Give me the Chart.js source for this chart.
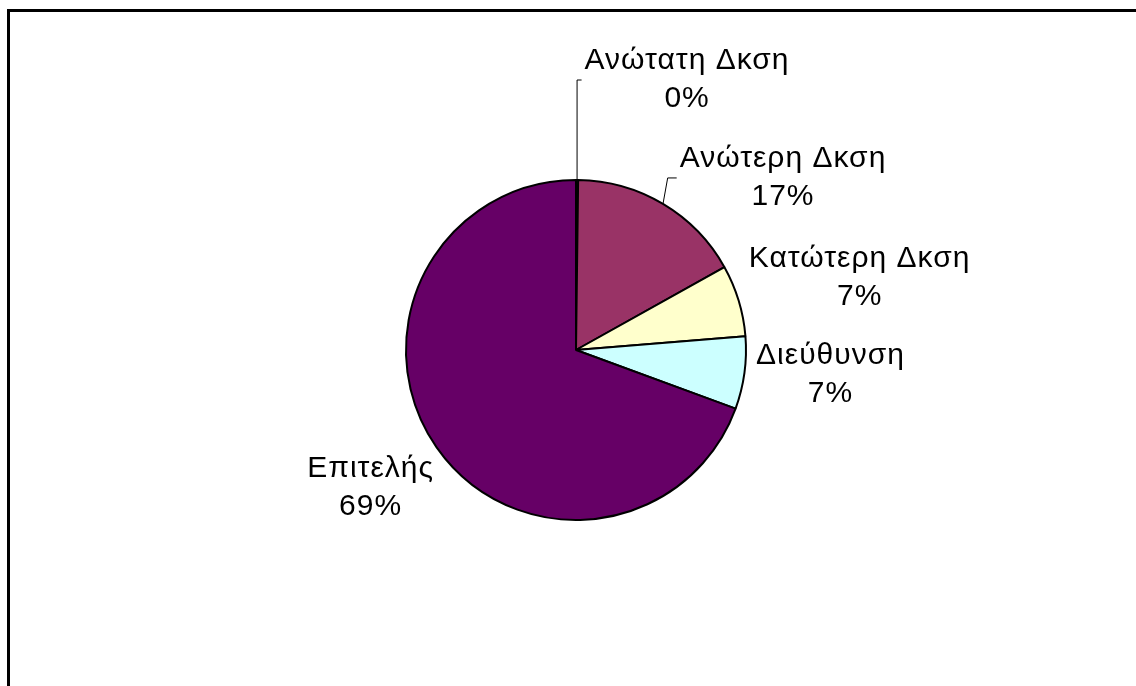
<!DOCTYPE html>
<html>
<head>
<meta charset="utf-8">
<script src="https://cdn.jsdelivr.net/npm/chart.js@4.4.1/dist/chart.umd.min.js"></script>
<style>
  html, body { margin: 0; padding: 0; background: #fff; overflow: hidden; }
  #wrap { position: relative; width: 1136px; height: 686px; }
  #frame { position: absolute; left: 7px; top: 9px; width: 1200px; height: 800px; border: 3px solid #000; }
  canvas { position: absolute; left: 0; top: 0; }
</style>
</head>
<body>
<div id="wrap">
  <div id="frame"></div>
  <canvas id="chart" width="1136" height="686"></canvas>
</div>
<script>
const categories = ["Ανώτατη Δκση", "Ανώτερη Δκση", "Κατώτερη Δκση", "Διεύθυνση", "Επιτελής"]
const shares = [0.2, 16.7, 6.8, 6.9, 69.4]
const sliceColors = ["#9999ff", "#993366", "#ffffcc", "#ccffff", "#660066"]

// label placement relative to the slice's outer mid point
const labelOffsets = [[110, -100], [120, -26], [121, -23], [86, 2], [-66, 40]]
const leaderLines = [true, true, false, false, false]

const total = shares.reduce((a, b) => a + b, 0)
const FONT = "30px 'Liberation Sans', Arial, sans-serif"

const sliceLabels = {
  id: "sliceLabels",
  afterDatasetsDraw(chart) {
    const ctx = chart.ctx
    const arcs = chart.getDatasetMeta(0).data
    ctx.save()
    ctx.font = FONT
    ctx.letterSpacing = "1px"
    ctx.fillStyle = "#000"
    ctx.strokeStyle = "#000"
    ctx.lineWidth = 1
    ctx.textAlign = "center"
    ctx.textBaseline = "middle"
    arcs.forEach((arc, i) => {
      const { x, y, startAngle, endAngle, outerRadius } = arc.getProps(["x", "y", "startAngle", "endAngle", "outerRadius"], true)
      const mid = (startAngle + endAngle) / 2
      const ex = x + Math.cos(mid) * outerRadius
      const ey = y + Math.sin(mid) * outerRadius
      const cx = ex + labelOffsets[i][0]
      const cy = ey + labelOffsets[i][1]
      const pct = Math.round(shares[i] / total * 100) + "%"
      ctx.fillText(categories[i], cx, cy - 19)
      ctx.fillText(pct, cx, cy + 19)

      if (leaderLines[i]) {
        const left = cx - ctx.measureText(categories[i]).width / 2
        const elbowX = Math.max(ex, left - 12)
        ctx.beginPath()
        ctx.moveTo(ex, ey)
        ctx.lineTo(elbowX, cy)
        ctx.lineTo(left - 3, cy)
        ctx.stroke()
      }
    })
    ctx.restore()
  }
}

new Chart(document.getElementById("chart"), {
  type: "pie",
  data: {
    labels: categories,
    datasets: [{
      data: shares,
      backgroundColor: sliceColors,
      borderColor: "#000",
      borderWidth: 2
    }]
  },
  options: {
    responsive: false,
    animation: false,
    layout: { padding: { left: 405, right: 389, top: 179, bottom: 165 } },
    plugins: {
      legend: { display: false },
      tooltip: { enabled: false }
    }
  },
  plugins: [sliceLabels]
})
</script>
</body>
</html>
